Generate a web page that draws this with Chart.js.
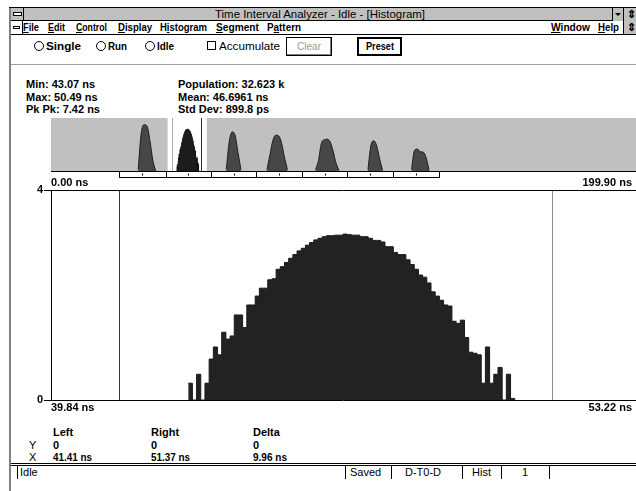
<!DOCTYPE html>
<html lang="en">
<head>
<meta charset="UTF-8">
<title>Time Interval Analyzer - Histogram</title>
<script src="https://cdn.jsdelivr.net/npm/chart.js"></script>
<style>
  body { margin:0; width:636px; height:491px; background:#fff; overflow:hidden; position:relative;
    font-family:"Liberation Sans",Arial,sans-serif; color:#000; }
  .abs { position:absolute; white-space:nowrap; transform-origin:0 0; }
  .t11 { font-size:11px; line-height:11px; }
  .t12 { font-size:12px; line-height:12px; }
  .b { font-weight:bold; }
  .radio { position:absolute; width:8px; height:8px; border:1px solid #000; border-radius:50%; }
  .box { position:absolute; box-sizing:border-box; }
  canvas { position:absolute; }
</style>
</head>
<body>
  <!-- window frame -->
  <div class="box" style="left:9px;top:7px;width:2px;height:484px;background:#808080"></div>
  <div class="box" style="left:9px;top:7px;width:627px;height:1px;background:#000"></div>

  <!-- title bar -->
  <div class="box" style="left:11px;top:8px;width:625px;height:13px;background:#c0c0c0;border-bottom:1px solid #000"></div>
  <div class="box" style="left:11px;top:8px;width:13px;height:13px;border-right:1px solid #000"></div>
  <div class="box" style="left:13px;top:12px;width:9px;height:4px;background:#fff;border:1px solid #000"></div>
  <div class="abs t11" data-w="210" style="left:215px;top:9px">Time Interval Analyzer - Idle - [Histogram]</div>
  <div class="box" style="left:612px;top:8px;width:12px;height:13px;border-left:1px solid #000;border-right:1px solid #000;background:#c0c0c0"></div>
  <div class="box" style="left:615px;top:13px;width:0;height:0;border-left:3px solid transparent;border-right:3px solid transparent;border-top:3px solid #000"></div>
  <div class="box" style="left:624px;top:8px;width:12px;height:13px;background:#c0c0c0"></div>
  <div class="abs t11 b" style="left:627px;top:9px">&#8661;</div>

  <!-- menu bar -->
  <div class="box" style="left:11px;top:21px;width:625px;height:14px;border-bottom:1px solid #000"></div>
  <div class="box" style="left:13px;top:26px;width:7px;height:3px;border:1px solid #000;background:#fff"></div>
  <div class="box" style="left:22px;top:21px;width:1px;height:13px;background:#000"></div>
  <div class="abs t11 b" data-w="16" style="left:23px;top:22px"><u>F</u>ile</div>
  <div class="abs t11 b" data-w="17" style="left:48px;top:22px"><u>E</u>dit</div>
  <div class="abs t11 b" data-w="31" style="left:76px;top:22px"><u>C</u>ontrol</div>
  <div class="abs t11 b" data-w="34" style="left:118px;top:22px"><u>D</u>isplay</div>
  <div class="abs t11 b" data-w="47" style="left:160px;top:22px">H<u>i</u>stogram</div>
  <div class="abs t11 b" data-w="43" style="left:216px;top:22px"><u>S</u>egment</div>
  <div class="abs t11 b" data-w="34" style="left:267px;top:22px">P<u>a</u>ttern</div>
  <div class="abs t11 b" data-w="39" style="left:551px;top:22px"><u>W</u>indow</div>
  <div class="abs t11 b" data-w="21" style="left:598px;top:22px"><u>H</u>elp</div>
  <div class="box" style="left:623px;top:21px;width:13px;height:13px;border-left:1px solid #000;background:#c0c0c0"></div>
  <div class="abs t11 b" style="left:627px;top:22px">&#8661;</div>

  <!-- tool bar -->
  <div class="radio" style="left:34px;top:41px"></div>
  <div class="abs t11 b" data-w="35" style="left:46px;top:41px">Single</div>
  <div class="radio" style="left:96px;top:41px"></div>
  <div class="abs t11 b" data-w="19" style="left:108px;top:41px">Run</div>
  <div class="radio" style="left:145px;top:41px"></div>
  <div class="abs t11 b" data-w="17" style="left:157px;top:41px">Idle</div>
  <div class="box" style="left:207px;top:41px;width:9px;height:9px;border:1px solid #000"></div>
  <div class="abs t11" data-w="61" style="left:219px;top:41px">Accumulate</div>
  <div class="box" style="left:286px;top:37px;width:46px;height:19px;border:1px solid #000;box-shadow:inset -1px -1px #808080, inset 1px 1px #fff"></div>
  <div class="abs t11" data-w="24" style="left:297px;top:41px;color:#9a9a9a">Clear</div>
  <div class="box" style="left:357px;top:37px;width:45px;height:19px;border:2px solid #000"></div>
  <div class="abs t11 b" data-w="28" style="left:366px;top:41px">Preset</div>
  <div class="box" style="left:11px;top:64px;width:625px;height:1px;background:#a0a0a0"></div>

  <!-- statistics -->
  <div class="abs t11 b" style="left:26px;top:79px">Min: 43.07 ns</div>
  <div class="abs t11 b" style="left:26px;top:92px">Max: 50.49 ns</div>
  <div class="abs t11 b" style="left:26px;top:104px">Pk Pk: 7.42 ns</div>
  <div class="abs t11 b" style="left:178px;top:79px">Population: 32.623 k</div>
  <div class="abs t11 b" style="left:178px;top:92px">Mean: 46.6961 ns</div>
  <div class="abs t11 b" style="left:178px;top:104px">Std Dev: 899.8 ps</div>

  <canvas id="overview" width="585" height="62" style="left:51px;top:118px"></canvas>
  <canvas id="main" width="636" height="250" style="left:0;top:170px"></canvas>

  <!-- cursor readout -->
  <div class="abs t11 b" style="left:53px;top:427px">Left</div>
  <div class="abs t11 b" style="left:151px;top:427px">Right</div>
  <div class="abs t11 b" style="left:253px;top:427px">Delta</div>
  <div class="abs t11" style="left:29px;top:440px">Y</div>
  <div class="abs t11 b" style="left:53px;top:440px">0</div>
  <div class="abs t11 b" style="left:151px;top:440px">0</div>
  <div class="abs t11 b" style="left:253px;top:440px">0</div>
  <div class="abs t11" style="left:29px;top:452px">X</div>
  <div class="abs t11 b" data-w="39" style="left:53px;top:452px">41.41 ns</div>
  <div class="abs t11 b" data-w="39" style="left:151px;top:452px">51.37 ns</div>
  <div class="abs t11 b" data-w="34" style="left:253px;top:452px">9.96 ns</div>

  <!-- status bar -->
  <div class="box" style="left:11px;top:463px;width:625px;height:3px;border-top:1px solid #000;border-bottom:1px solid #000"></div>
  <div class="box" style="left:17px;top:466px;width:1px;height:13px;background:#000"></div>
  <div class="abs t11" style="left:20px;top:467px">Idle</div>
  <div class="box" style="left:345px;top:466px;width:1px;height:13px;background:#000"></div>
  <div class="abs t11" style="left:350px;top:467px">Saved</div>
  <div class="box" style="left:391px;top:466px;width:1px;height:13px;background:#000"></div>
  <div class="abs t11" style="left:405px;top:467px">D-T0-D</div>
  <div class="box" style="left:462px;top:466px;width:1px;height:13px;background:#000"></div>
  <div class="abs t11" style="left:472px;top:467px">Hist</div>
  <div class="box" style="left:501px;top:466px;width:1px;height:13px;background:#000"></div>
  <div class="abs t11" style="left:522px;top:467px">1</div>
  <div class="box" style="left:549px;top:466px;width:1px;height:13px;background:#000"></div>

<script>
// ---- data ----
// histogram of the selected window (bin heights)
const binStart = 43.0;      // ns, left edge of first bin
const binWidth = 0.0964;    // ns
const counts = [0.32, 0, 0.49, 0, 0.32, 0.78, 1.01, 0.86, 1.29, 1.16,
  1.22, 1.62, 1.62, 1.38, 1.81, 1.81, 1.98, 2.13, 2.13, 2.29,
  2.31, 2.49, 2.54, 2.62, 2.70, 2.77, 2.84, 2.89, 2.95, 3.00,
  3.05, 3.08, 3.11, 3.13, 3.13, 3.14, 3.14, 3.16, 3.15, 3.14,
  3.14, 3.11, 3.11, 3.08, 3.04, 3.04, 3.01, 2.92, 2.92, 2.81,
  2.77, 2.77, 2.67, 2.58, 2.49, 2.38, 2.34, 2.23, 2.06, 1.98,
  1.90, 1.81, 1.79, 1.50, 1.46, 1.52, 1.19, 0.91, 0.89, 0.86,
  0.32, 1.01, 0.32, 0.49, 0.62, 0, 0.49, 0.03];

const viewRange = [39.84, 53.22];   // ns, main plot x range
const fullRange = [0, 199.9];       // ns, overview x range
const yRange = [0, 4];
const cursors = [41.41, 51.37];     // ns, left / right cursor

// other peaks in the overview strip: start (ns), 1 ns spacing, heights
const peakStarts = [29.8, 59.9, 73.8, 90.4, 108.3, 123.2];
const peakValues = [
  [0.1, 2.8, 3.5, 3.4, 2.3, 0.8, 0],
  [0.1, 2.2, 2.95, 2.7, 1.4, 0.1],
  [0.1, 1.2, 2.3, 2.7, 2.65, 2.1, 1.0, 0.1],
  [0.1, 0.8, 2.1, 2.35, 2.4, 2.2, 1.5, 0.6, 0.05],
  [0.1, 1.9, 2.28, 1.9, 0.9, 0.05],
  [0.1, 1.55, 1.66, 1.45, 1.42, 1.0, 0.05]
];
// segment markers under the overview
const segEdges = [23.3, 39.2, 54.6, 70.2, 85.8, 101.2, 116.9, 132.5];

const FONT = '"Liberation Sans",Arial,sans-serif';
const labelFont = { family: FONT, size: 11, weight: 'bold' };

// squeeze UI labels to the widths of the old bitmap font
document.querySelectorAll('[data-w]').forEach(el => {
  const w = el.getBoundingClientRect().width;
  el.style.transform = 'scaleX(' + (Number(el.dataset.w) / w).toFixed(3) + ')';
});

const histPoints = counts.map((c, i) => ({ x: binStart + i * binWidth, y: c }));
histPoints.push({ x: binStart + counts.length * binWidth, y: 0 });

// ---- overview strip ----
const overviewDeco = {
  id: 'overviewDeco',
  beforeDatasetsDraw(chart) {
    const { ctx, chartArea: a, scales: { x } } = chart;
    ctx.save();
    ctx.fillStyle = '#c0c0c0';
    ctx.fillRect(a.left, a.top, a.right - a.left, a.bottom - a.top);
    const w0 = x.getPixelForValue(viewRange[0]), w1 = x.getPixelForValue(viewRange[1]);
    ctx.fillStyle = '#fff';
    ctx.fillRect(w0, a.top, w1 - w0, a.bottom - a.top);
    ctx.lineWidth = 1;
    ['#a8a8a8', '#303030'].forEach((col, i) => {
      const px = Math.round(x.getPixelForValue(cursors[i])) + 0.5;
      ctx.strokeStyle = col;
      ctx.beginPath(); ctx.moveTo(px, a.top); ctx.lineTo(px, a.bottom); ctx.stroke();
    });
    ctx.restore();
  },
  afterDatasetsDraw(chart) {
    const { ctx, chartArea: a, scales: { x } } = chart;
    ctx.save();
    ctx.strokeStyle = '#000';
    ctx.lineWidth = 1;
    ctx.beginPath(); ctx.moveTo(a.left, a.bottom + 0.5); ctx.lineTo(a.right, a.bottom + 0.5); ctx.stroke();
    const s0 = Math.round(x.getPixelForValue(segEdges[0])) + 0.5;
    const s1 = Math.round(x.getPixelForValue(segEdges[segEdges.length - 1])) + 0.5;
    const top = a.bottom + 0.5, bot = a.bottom + 6.5;
    ctx.fillStyle = '#fff';
    ctx.fillRect(s0, top, s1 - s0, bot - top);
    ctx.strokeRect(s0, top, s1 - s0, bot - top);
    segEdges.forEach((e, i) => {
      const px = Math.round(x.getPixelForValue(e)) + 0.5;
      ctx.beginPath(); ctx.moveTo(px, top); ctx.lineTo(px, bot); ctx.stroke();
      if (i < segEdges.length - 1) {
        const mid = Math.round(x.getPixelForValue((e + segEdges[i + 1]) / 2)) + 0.5;
        ctx.beginPath(); ctx.moveTo(mid, top + 2); ctx.lineTo(mid, top + 4); ctx.stroke();
      }
    });
    ctx.restore();
  }
};

const peakSets = peakStarts.map((s, k) => ({
  data: peakValues[k].map((v, i) => ({ x: s + i, y: v })),
  borderColor: '#1e1e1e', borderWidth: 1, backgroundColor: '#474747',
  fill: 'origin', pointRadius: 0, cubicInterpolationMode: 'monotone'
}));
peakSets.push({
  data: histPoints, stepped: true, borderColor: '#111', borderWidth: 1,
  backgroundColor: '#1c1c1c', fill: 'origin', pointRadius: 0
});

new Chart(document.getElementById('overview'), {
  type: 'line',
  data: { datasets: peakSets },
  options: {
    responsive: false, animation: false, events: [],
    layout: { padding: { bottom: 9 } },
    plugins: { legend: { display: false }, tooltip: { enabled: false } },
    scales: {
      x: { type: 'linear', min: fullRange[0], max: fullRange[1], display: false },
      y: { min: yRange[0], max: yRange[1], display: false }
    }
  },
  plugins: [overviewDeco]
});

// ---- main histogram ----
const mainDeco = {
  id: 'mainDeco',
  beforeDatasetsDraw(chart) {
    const { ctx, chartArea: a, scales: { x } } = chart;
    ctx.save();
    ctx.lineWidth = 1;
    ['#3a3a3a', '#8c8c8c'].forEach((col, i) => {
      const px = Math.round(x.getPixelForValue(cursors[i])) + 0.5;
      ctx.strokeStyle = col;
      ctx.beginPath(); ctx.moveTo(px, a.top); ctx.lineTo(px, a.bottom); ctx.stroke();
    });
    ctx.restore();
  },
  afterDatasetsDraw(chart) {
    const { ctx, chartArea: a, width } = chart;
    ctx.save();
    ctx.strokeStyle = '#000';
    ctx.lineWidth = 1;
    ctx.beginPath();
    ctx.moveTo(a.left, a.top + 0.5); ctx.lineTo(width, a.top + 0.5);
    ctx.moveTo(a.left, a.bottom + 0.5); ctx.lineTo(width, a.bottom + 0.5);
    ctx.stroke();
    ctx.restore();
  }
};

const nsLabel = v => v.toFixed(2) + ' ns';

new Chart(document.getElementById('main'), {
  type: 'line',
  data: {
    datasets: [{
      data: histPoints, stepped: true, fill: 'origin',
      borderColor: '#1a1a1a', borderWidth: 1, backgroundColor: '#222',
      pointRadius: 0
    }]
  },
  options: {
    responsive: false, animation: false, events: [],
    layout: { padding: { right: 4 } },
    plugins: { legend: { display: false }, tooltip: { enabled: false } },
    scales: {
      x: {
        type: 'linear', position: 'bottom', min: viewRange[0], max: viewRange[1],
        afterBuildTicks: s => { s.ticks = viewRange.map(v => ({ value: v })); },
        ticks: { align: 'inner', maxRotation: 0, padding: 1, color: '#000', font: labelFont, callback: nsLabel },
        grid: { display: false, drawTicks: false },
        border: { display: false },
        afterFit: s => { s.height = 20; }
      },
      x2: {
        type: 'linear', position: 'top', min: fullRange[0], max: fullRange[1],
        afterBuildTicks: s => { s.ticks = fullRange.map(v => ({ value: v })); },
        ticks: { align: 'inner', maxRotation: 0, padding: 0, color: '#000', font: labelFont, callback: nsLabel },
        grid: { display: false, drawTicks: false },
        border: { display: false },
        afterFit: s => { s.height = 20; }
      },
      y: {
        min: yRange[0], max: yRange[1],
        ticks: { stepSize: 4, padding: 1, color: '#000', font: labelFont },
        grid: { drawOnChartArea: false, tickLength: 7, color: '#000' },
        border: { color: '#000' },
        afterFit: s => { s.width = 51; }
      }
    }
  },
  plugins: [mainDeco]
});
</script>
</body>
</html>
